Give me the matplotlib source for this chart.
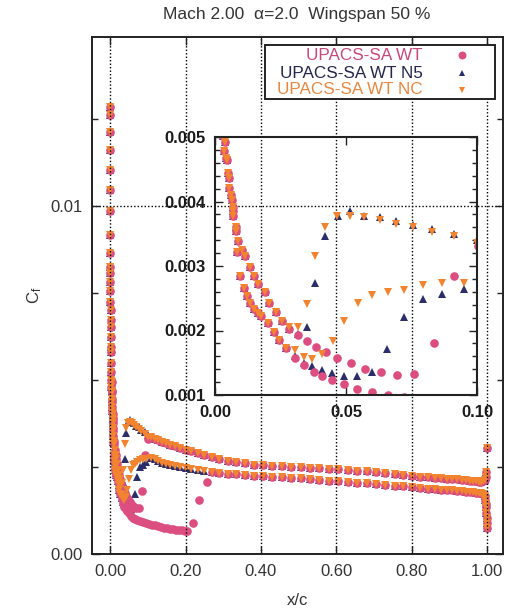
import numpy as np
import matplotlib
matplotlib.use("Agg")
import matplotlib.pyplot as plt
from matplotlib.patches import Rectangle
from matplotlib.ticker import MultipleLocator, FixedLocator, FormatStrFormatter

plt.rcParams['font.family'] = ['Liberation Sans', 'DejaVu Sans']
plt.rcParams['mathtext.fontset'] = 'custom'
plt.rcParams['mathtext.rm'] = 'Liberation Sans'
plt.rcParams['mathtext.it'] = 'Liberation Sans:italic'

# ---------------- skin-friction data (x/c, Cf) ----------------
# stagnation region, all cases
x_le = [0.0, 0.0, 0.0001, 0.0001, 0.0002, 0.0003, 0.0003, 0.0004, 0.0005, 0.0006,
        0.0007, 0.0008, 0.0009, 0.001, 0.0012, 0.0013, 0.0015, 0.0017, 0.0019,
        0.0021, 0.0024, 0.0027, 0.003, 0.0034]
cf_le = [0.01284, 0.01261, 0.01212, 0.0116, 0.01103, 0.01046, 0.00985, 0.00917,
         0.00865, 0.00825, 0.00808, 0.00782, 0.00754, 0.00725, 0.00702, 0.00673,
         0.00653, 0.00622, 0.00596, 0.00579, 0.0055, 0.00524, 0.00501, 0.00479]

x_nose = [0.00383, 0.00421, 0.00473, 0.00498, 0.00549, 0.00549, 0.006, 0.00639,
          0.00677, 0.00702, 0.00702, 0.00805, 0.00805, 0.00856, 0.00894, 0.0102, 0.0115]
cf_nose = [0.00493, 0.00467, 0.00465, 0.00444, 0.00436, 0.00421, 0.0041, 0.00403,
           0.00392, 0.00385, 0.00377, 0.00361, 0.00354, 0.00322, 0.00338, 0.00325, 0.00315]

# surface 1, laminar part common to all cases
x_s1 = [0.0134, 0.0149, 0.0166, 0.0189, 0.0208, 0.0234, 0.0255]
cf_s1 = [0.00299, 0.00284, 0.00272, 0.00259, 0.00242, 0.00228, 0.00214]

x_s1_wt = [0.0281, 0.0315, 0.0351, 0.0387, 0.0425, 0.0466, 0.052, 0.0571, 0.0632,
           0.0696, 0.076, 0.0834, 0.0913, 0.1003]
cf_s1_wt = [0.00203, 0.00193, 0.00184, 0.00174, 0.00166, 0.00157, 0.00149, 0.00141,
            0.00135, 0.00131, 0.00133, 0.0018, 0.00284, 0.00331]
x_s1_n5 = [0.0281, 0.0317, 0.0351, 0.0383, 0.0421, 0.0469, 0.0517, 0.0568, 0.063,
           0.069, 0.0757, 0.083, 0.0913, 0.1]
cf_s1_n5 = [0.00203, 0.00195, 0.00206, 0.00273, 0.00347, 0.00378, 0.00385, 0.00378,
            0.00376, 0.00369, 0.00364, 0.00357, 0.0035, 0.00341]
x_s1_nc = [0.0281, 0.0317, 0.0351, 0.0383, 0.0421, 0.0466, 0.0517, 0.0568, 0.063,
           0.069, 0.0757, 0.083, 0.0913, 0.1]
cf_s1_nc = [0.00205, 0.00205, 0.00241, 0.00315, 0.00361, 0.00377, 0.00378, 0.00376,
            0.00371, 0.00365, 0.0036, 0.00352, 0.00346, 0.00336]

# surface 2, laminar part common to all cases
x_s2 = [0.0096, 0.0109, 0.0121, 0.0132, 0.0147, 0.0166, 0.0176, 0.0204, 0.0224,
        0.0246, 0.0272]
cf_s2 = [0.00285, 0.00266, 0.00253, 0.00242, 0.00234, 0.00227, 0.00222, 0.00211,
         0.00198, 0.00185, 0.00173]

x_s2_wt = [0.0304, 0.0338, 0.0377, 0.041, 0.0447, 0.0492, 0.0543, 0.06, 0.0662,
           0.072, 0.079, 0.086, 0.094, 0.102, 0.11, 0.118, 0.126, 0.134, 0.142,
           0.15, 0.158, 0.166, 0.174, 0.182, 0.19, 0.198, 0.205, 0.219, 0.237, 0.256]
cf_s2_wt = [0.00158, 0.00146, 0.00135, 0.00129, 0.00123, 0.00117, 0.0011, 0.00104,
            0.001, 0.00097, 0.00094, 0.00091, 0.00089, 0.00087, 0.00084, 0.00082,
            0.0008, 0.00078, 0.00076, 0.00075, 0.00073, 0.00072, 0.0007, 0.00069,
            0.00068, 0.00067, 0.00066, 0.00088, 0.00155, 0.00208]
x_s2_n5 = [0.0304, 0.0338, 0.037, 0.0409, 0.0447, 0.0492, 0.0543, 0.06, 0.0658,
           0.0722, 0.0792, 0.0865, 0.0951]
cf_s2_n5 = [0.0016, 0.0015, 0.00145, 0.00139, 0.00134, 0.0013, 0.0013, 0.00136,
            0.00171, 0.00221, 0.00249, 0.00256, 0.00264]
x_s2_nc = [0.0304, 0.0338, 0.037, 0.0409, 0.0449, 0.0494, 0.0545, 0.06, 0.066,
           0.0722, 0.0792, 0.0865, 0.0951]
cf_s2_nc = [0.0017, 0.00159, 0.00156, 0.00163, 0.00184, 0.00214, 0.00242, 0.00255,
            0.00259, 0.00263, 0.0027, 0.00274, 0.00274]

# turbulent aft region, shared chordwise stations
x_aft = [0.108, 0.118, 0.128, 0.138, 0.148, 0.16, 0.172, 0.185, 0.2, 0.215, 0.232,
         0.25, 0.27, 0.29, 0.312, 0.335, 0.358, 0.382, 0.406, 0.43, 0.455, 0.48,
         0.505, 0.53, 0.555, 0.58, 0.605, 0.63, 0.655, 0.68, 0.705, 0.73, 0.755,
         0.778, 0.8, 0.822, 0.842, 0.861, 0.878, 0.894, 0.908, 0.921, 0.933, 0.944,
         0.954, 0.963, 0.971, 0.978, 0.984, 0.989]
cf_aft_1 = [0.00336, 0.00331, 0.00327, 0.00322, 0.00318, 0.00313, 0.00309, 0.00304,
            0.003, 0.00295, 0.0029, 0.00285, 0.00279, 0.00274, 0.00268, 0.00264,
            0.0026, 0.00257, 0.00255, 0.00253, 0.00252, 0.0025, 0.00249, 0.00247,
            0.00246, 0.00244, 0.00243, 0.00241, 0.00239, 0.00237, 0.00235, 0.00232,
            0.0023, 0.00227, 0.00225, 0.00222, 0.0022, 0.00219, 0.00217, 0.00216,
            0.00215, 0.00214, 0.00213, 0.00212, 0.00211, 0.0021, 0.00209, 0.00208,
            0.00208, 0.00209]
cf_aft_2 = [0.00276, 0.00272, 0.00266, 0.00262, 0.00259, 0.00256, 0.00252, 0.00249,
            0.00246, 0.00243, 0.0024, 0.00238, 0.00236, 0.00234, 0.00231, 0.00229,
            0.00227, 0.00225, 0.00223, 0.00221, 0.0022, 0.00218, 0.00217, 0.00215,
            0.00213, 0.00211, 0.0021, 0.00208, 0.00205, 0.00203, 0.00201, 0.00199,
            0.00196, 0.00194, 0.00192, 0.0019, 0.00188, 0.00187, 0.00185, 0.00184,
            0.00183, 0.00181, 0.0018, 0.00179, 0.00178, 0.00177, 0.00176, 0.00175,
            0.00174, 0.00173]

# trailing edge
x_te_1 = [0.993, 0.996, 0.998, 1.0]
cf_te_1 = [0.00213, 0.00222, 0.00236, 0.00305]
x_te_2 = [0.993, 0.995, 0.996, 0.997, 0.998, 0.999, 0.9995, 1.0]
cf_te_2 = [0.00168, 0.00155, 0.00145, 0.00136, 0.00117, 0.00102, 0.00088, 0.00074]

labels = ["UPACS-SA WT", "UPACS-SA WT N5", "UPACS-SA WT NC"]
colors = ["#dc4d80", "#2c2e6c", "#f2842f"]
text_colors = ["#c8487c", "#24264e", "#e8873f"]
markers = ["o", "^", "v"]
msizes = [6.2, 5.2, 5.2]
draw_order = [1, 0, 2]   # N5 underneath, then WT, NC on top


def join(*parts):
    xs = np.concatenate([np.asarray(p[0], float) for p in parts])
    ys = np.concatenate([np.asarray(p[1], float) for p in parts])
    return xs, ys


xa = np.asarray(x_aft)
mask_wt = xa >= 0.27
series = [
    join((x_le, cf_le), (x_nose, cf_nose), (x_s1, cf_s1), (x_s1_wt, cf_s1_wt),
         (x_aft, cf_aft_1), (x_te_1, cf_te_1), (x_s2, cf_s2), (x_s2_wt, cf_s2_wt),
         (xa[mask_wt], np.asarray(cf_aft_2)[mask_wt]), (x_te_2, cf_te_2)),
    join((x_le, cf_le), (x_nose, cf_nose), (x_s1, cf_s1), (x_s1_n5, cf_s1_n5),
         (x_aft, cf_aft_1), (x_te_1, cf_te_1), (x_s2, cf_s2), (x_s2_n5, cf_s2_n5),
         (x_aft, cf_aft_2), (x_te_2, cf_te_2)),
    join((x_le, cf_le), (x_nose, cf_nose), (x_s1, cf_s1), (x_s1_nc, cf_s1_nc),
         (x_aft, cf_aft_1), (x_te_1, cf_te_1), (x_s2, cf_s2), (x_s2_nc, cf_s2_nc),
         (x_aft, cf_aft_2), (x_te_2, cf_te_2)),
]

W, H = 512, 610
fig = plt.figure(figsize=(W / 100, H / 100), dpi=100)
fig.patch.set_facecolor("white")

def frac(x0, y0, x1, y1):
    return [x0 / W, 1 - y1 / H, (x1 - x0) / W, (y1 - y0) / H]

txt = "#333333"
ax = fig.add_axes(frac(92, 37, 503, 554))
ax.set_xlim(-0.048, 1.042)
ax.set_ylim(0.0, 0.01485)
ax.xaxis.set_major_locator(FixedLocator([0.0, 0.2, 0.4, 0.6, 0.8, 1.0]))
ax.xaxis.set_major_formatter(FormatStrFormatter("%.2f"))
ax.yaxis.set_major_locator(FixedLocator([0.0, 0.01]))
ax.yaxis.set_major_formatter(FormatStrFormatter("%.2f"))
ax.yaxis.set_minor_locator(MultipleLocator(0.0025))
ax.tick_params(which="both", direction="in", top=True, right=True,
               labelsize=12, labelcolor=txt, pad=7, width=1.0, color="#222222")
ax.tick_params(which="major", length=6)
ax.tick_params(which="minor", length=4)
for s in ax.spines.values():
    s.set_linewidth(1.4)
    s.set_color("#222222")
ax.set_axisbelow(False)
ax.grid(True, which="major", linestyle=(0, (1, 1.5)), color="black", linewidth=1.0)
ax.set_xlabel("x/c", fontsize=12, color=txt, labelpad=10)
ax.set_ylabel(r"C$_{\rm f}$", fontsize=12, color=txt, labelpad=4)

for i in draw_order:
    xs, ys = series[i]
    ax.plot(xs, ys, linestyle="none", marker=markers[i], markersize=msizes[i],
            color=colors[i], markeredgewidth=0, zorder=2)

fig.text(297 / W, 1 - 15 / H, "Mach 2.00  \u03b1=2.0  Wingspan 50 %",
         ha="center", va="center", fontsize=12.5, color=txt)

# legend box
ax_px = lambda px, py: ((px - 92) / 411, 1 - (py - 37) / 517)
x0, y0 = ax_px(265, 99)
x1, y1 = ax_px(495, 45)
ax.add_patch(Rectangle((x0, y0), x1 - x0, y1 - y0, transform=ax.transAxes,
                       facecolor="white", edgecolor="#222222", linewidth=1.4,
                       zorder=5, clip_on=False))
rows = [55, 73, 90]
for lab, c, tc, m, ms, ry in zip(labels, colors, text_colors, markers, msizes, rows):
    tx, ty = ax_px(423, ry)
    mx, _ = ax_px(462, ry)
    ax.text(tx, ty, lab, transform=ax.transAxes, ha="right", va="center",
            fontsize=12.3, color=tc, zorder=6)
    ax.plot([mx], [ty], transform=ax.transAxes, linestyle="none", marker=m,
            markersize=ms - 0.5, color=c, markeredgewidth=0, zorder=6, clip_on=False)

# zoomed view of the leading-edge region
axi = fig.add_axes(frac(215, 137, 477, 395))
axi.patch.set_alpha(0.0)
axi.set_xlim(0.0, 0.1)
axi.set_ylim(0.001, 0.005)
axi.xaxis.set_major_locator(FixedLocator([0.0, 0.05, 0.1]))
axi.xaxis.set_major_formatter(FormatStrFormatter("%.2f"))
axi.yaxis.set_major_locator(MultipleLocator(0.001))
axi.yaxis.set_major_formatter(FormatStrFormatter("%.3f"))
axi.yaxis.set_minor_locator(MultipleLocator(0.0002))
axi.tick_params(which="both", direction="in", top=True, right=True,
                labelsize=12, labelcolor="#1a1a1a", pad=7, width=1.0, color="#222222")
axi.tick_params(which="major", length=6)
axi.tick_params(which="minor", length=3.5)
for lbl in axi.get_xticklabels() + axi.get_yticklabels():
    lbl.set_fontweight("bold")
for s in axi.spines.values():
    s.set_linewidth(1.5)
    s.set_color("#222222")
for i in draw_order:
    xs, ys = series[i]
    axi.plot(xs, ys, linestyle="none", marker=markers[i], markersize=msizes[i],
             color=colors[i], markeredgewidth=0, zorder=2)

fig.savefig("out.png", dpi=100)
